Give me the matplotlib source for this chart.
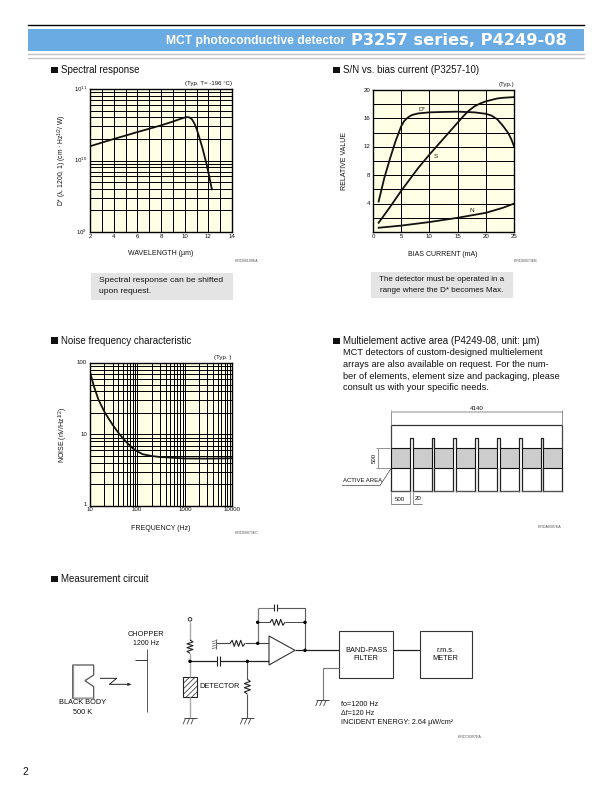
import numpy as np
import matplotlib
matplotlib.use("Agg")
import matplotlib.pyplot as plt
from matplotlib.patches import Rectangle, Polygon, Circle
from matplotlib.ticker import MultipleLocator, FixedLocator, NullFormatter

plt.rcParams['font.family'] = ['Liberation Sans', 'DejaVu Sans']
plt.rcParams['mathtext.default'] = 'regular'
plt.rcParams['mathtext.fontset'] = 'custom'
plt.rcParams['mathtext.rm'] = 'Liberation Sans'
plt.rcParams['hatch.linewidth'] = 0.5

# ---- data
spec_wl = [2, 3, 4, 5, 6, 7, 8, 9, 9.6, 10, 10.2, 10.4, 10.6, 10.8, 11, 11.2, 11.5, 11.8, 12, 12.3]
spec_d = [1.58e10, 1.78e10, 2.0e10, 2.23e10, 2.5e10, 2.78e10, 3.1e10, 3.5e10, 3.8e10, 3.98e10, 4.05e10, 4.0e10,
          3.8e10, 3.35e10, 2.8e10, 2.2e10, 1.5e10, 9.6e9, 6.9e9, 3.95e9]
bias_d = [1, 2, 3, 4, 5, 5.5, 6, 6.5, 7, 8, 10, 12, 15, 18, 20, 21, 22, 23, 24, 24.5, 25]
val_d = [4.3, 7.6, 10.3, 12.8, 14.9, 15.6, 16.0, 16.3, 16.5, 16.7, 16.85, 16.9, 16.95, 16.85, 16.65, 16.4, 15.9,
         15.0, 13.9, 13.1, 12.1]
bias_s = [1, 3, 5, 8, 10, 13, 15, 16, 17, 18, 19, 20, 21, 22, 23, 25]
val_s = [1.3, 3.5, 5.8, 9.0, 10.9, 13.6, 15.4, 16.3, 17.1, 17.7, 18.1, 18.4, 18.6, 18.8, 18.9, 19.0]
bias_n = [1, 5, 10, 15, 20, 23, 25]
val_n = [0.6, 0.9, 1.4, 2.0, 2.7, 3.4, 4.0]
noise_f = [10, 12, 15, 20, 25, 30, 40, 50, 60, 70, 80, 100, 130, 200, 300, 500, 1000, 3000, 10000]
noise_v = [75, 48, 31, 21, 16.5, 13.7, 10.5, 8.8, 7.7, 7.0, 6.4, 5.8, 5.3, 5.0, 4.85, 4.75, 4.62, 4.6, 4.65]
spec_xticks = [2, 4, 6, 8, 10, 12, 14]
bias_xticks = [0, 5, 10, 15, 20, 25]
bias_yticks = [4, 8, 12, 16, 20]
minors = [2, 3, 4, 5, 6, 7, 8, 9]

W, H = 612, 792
fig = plt.figure(figsize=(W/100, H/100), dpi=100, facecolor='white')
ov = fig.add_axes([0, 0, 1, 1], zorder=5)
ov.set_xlim(0, W); ov.set_ylim(H, 0); ov.axis('off'); ov.patch.set_alpha(0)

YEL = '#FFFFE6'
GRID = 0.72
TICK = 4.4
AXL = 5.0

def T(x, y, s, size=7.05, ha='left', va='center', **kw):
    kw.setdefault('color', '#111111')
    return ov.text(x, y, s, fontsize=size, ha=ha, va=va, **kw)

def L(xs, ys, lw=0.8, c='#222222', **kw):
    ov.plot(xs, ys, color=c, lw=lw, solid_capstyle='butt', **kw)

def chart(x0, y0, x1, y1):
    a = fig.add_axes([x0/W, 1-y1/H, (x1-x0)/W, (y1-y0)/H], zorder=2)
    a.set_facecolor(YEL)
    a.tick_params(which='both', length=0, labelbottom=False, labelleft=False)
    for s in a.spines.values():
        s.set_linewidth(1.0); s.set_color('black')
    a.set_axisbelow(True)
    return a

# ---- header
ov.plot([28, 584], [24.5, 24.5], color='black', lw=1.0)
ov.add_patch(Rectangle((28, 29), 556, 21.5, fc='#69ABE2', ec='none'))
ov.plot([28, 584], [53.8, 53.8], color='#c4c4c4', lw=1.0)
ov.plot([28, 584], [57.5, 57.5], color='#c4c4c4', lw=1.0)
T(345, 41, 'MCT photoconductive detector', 8.7, ha='right', weight='bold', color='white')
T(351, 40.5, 'P3257 series, P4249-08', 11.7, weight='bold', color='white', family='DejaVu Sans')

def head(x, y, s):
    ov.add_patch(Rectangle((x, y-3.4), 6.5, 6.5, fc='#111111', ec='none'))
    T(x+10, y, s, 7.05)

# ---- spectral response
head(51, 70, 'Spectral response')
a1 = chart(90, 89, 232, 232)
a1.set_yscale('log'); a1.set_xlim(2, 14); a1.set_ylim(1e9, 1e11)
a1.xaxis.set_major_locator(MultipleLocator(1))
a1.yaxis.set_major_locator(FixedLocator([1e9, 1e10, 1e11]))
a1.yaxis.set_minor_locator(FixedLocator([m*d for d in (1e9, 1e10) for m in minors]))
a1.yaxis.set_minor_formatter(NullFormatter())
a1.grid(True, which='both', color='black', lw=GRID)
a1.plot(spec_wl, spec_d, color='#111111', lw=1.3)
for v in spec_xticks:
    T(90+(v-2)*142/12, 236.5, str(v), TICK, ha='center')
for e, yy in ((11, 89), (10, 160), (9, 232)):
    T(87, yy, '$10^{%d}$' % e, TICK, ha='right')
T(232, 83, '(Typ. T= -196 °C)', TICK, ha='right')
T(62, 160, 'D* (λ, 1200, 1) (cm · Hz$^{1/2}$/ W)', 4.9, ha='center', rotation=90)
T(161, 253.5, 'WAVELENGTH (µm)', AXL, ha='center')
T(235, 261, 'KIRDB0198EA', 2.6, color='#555555')
ov.add_patch(Rectangle((91, 273), 142, 27, fc='#e4e4e4', ec='none'))
T(99, 280.5, 'Spectral response can be shifted', 6.1)
T(99, 291.5, 'upon request.', 6.1)

# ---- S/N vs bias current
head(333, 70, 'S/N vs. bias current (P3257-10)')
a2 = chart(373, 90, 514, 232)
a2.set_xlim(0, 25); a2.set_ylim(0, 20)
a2.xaxis.set_major_locator(MultipleLocator(5))
a2.yaxis.set_major_locator(MultipleLocator(2))
a2.grid(True, color='black', lw=GRID)
for xs, ys in ((bias_d, val_d), (bias_s, val_s), (bias_n, val_n)):
    a2.plot(xs, ys, color='#111111', lw=1.3)
a2.text(8.7, 17.3, 'D*', fontsize=4.6, ha='center', va='center', color='#222222', zorder=6)
a2.text(11.1, 10.6, 'S', fontsize=4.6, ha='center', va='center', color='#222222', zorder=6,
        bbox=dict(fc=YEL, ec='none', pad=0.4))
a2.text(17.5, 3.0, 'N', fontsize=4.6, ha='center', va='center', color='#222222', zorder=6)
for v in bias_xticks:
    T(373+v*141/25, 236.5, str(v), TICK, ha='center')
for v in bias_yticks:
    T(370, 232-v*142/20, str(v), TICK, ha='right')
T(514, 84.5, '(Typ.)', TICK, ha='right')
T(344, 161, 'RELATIVE VALUE', AXL, ha='center', rotation=90)
T(443, 254, 'BIAS CURRENT (mA)', AXL, ha='center')
T(514, 261, 'KIRDB0073EB', 2.6, color='#555555')
ov.add_patch(Rectangle((371, 272), 142, 26, fc='#e4e4e4', ec='none'))
T(442, 279.5, 'The detector must be operated in a', 5.75, ha='center')
T(442, 290.5, 'range where the D* becomes Max.', 5.75, ha='center')

# ---- noise
head(51, 340.5, 'Noise frequency characteristic')
a3 = chart(90, 363, 232, 506)
a3.set_xscale('log'); a3.set_yscale('log')
a3.set_xlim(10, 10000); a3.set_ylim(1, 100)
a3.xaxis.set_major_locator(FixedLocator([10, 100, 1000, 10000]))
a3.xaxis.set_minor_locator(FixedLocator([m*d for d in (10, 100, 1000) for m in minors]))
a3.yaxis.set_major_locator(FixedLocator([1, 10, 100]))
a3.yaxis.set_minor_locator(FixedLocator([m*d for d in (1, 10) for m in minors]))
a3.xaxis.set_minor_formatter(NullFormatter()); a3.yaxis.set_minor_formatter(NullFormatter())
a3.grid(True, which='both', color='black', lw=GRID)
a3.plot(noise_f, noise_v, color='#111111', lw=1.3)
for s, xx in (('10', 90), ('100', 137), ('1000', 185), ('10000', 232)):
    T(xx, 509.5, s, TICK, ha='center')
for s, yy in (('100', 363), ('10', 434), ('1', 504)):
    T(87, yy, s, TICK, ha='right')
T(232, 357.5, '(Typ. )', TICK, ha='right')
T(63, 435, 'NOISE (nV/Hz$^{1/2}$)', AXL, ha='center', rotation=90)
T(161, 528, 'FREQUENCY (Hz)', AXL, ha='center')
T(235, 533, 'KIRDB0073EC', 2.6, color='#555555')

# ---- multielement
head(333, 341, 'Multielement active area (P4249-08, unit: µm)')
for i, s in enumerate(['MCT detectors of custom-designed multielement',
                       'arrays are also available on request. For the num-',
                       'ber of elements, element size and packaging, please',
                       'consult us with your specific needs.']):
    T(343, 352.7+i*11.7, s, 6.7)

x0, pitch, w = 390.7, 21.8, 19.0
top, ft, at, ab, bot = 424.7, 438, 448, 468.3, 490.5
for i in range(8):
    xa = x0 + i*pitch
    ov.add_patch(Rectangle((xa, at), w, ab-at, fc='#cccccc', ec='#111111', lw=0.8))
    ov.plot([xa, xa], [ab, bot], color='#222222', lw=0.9)
    ov.plot([xa+w, xa+w], [ab, bot], color='#222222', lw=0.9)
    ov.plot([xa, xa+w], [bot, bot], color='#555555', lw=1.0)
    if i < 7:
        ov.plot([xa+w, xa+w, xa+pitch, xa+pitch], [at, ft, ft, at], color='#222222', lw=0.9)
xe = x0 + 7*pitch + w
L([x0, xe], [top, top], 0.9, '#333333')
L([x0, x0], [top, at], 0.9, '#444444')
L([xe, xe], [top, at], 0.9, '#444444')
L([x0, x0], [410, top], 0.5, '#666666')
L([xe, xe], [410, top], 0.5, '#666666')
L([x0, xe], [412, 412], 1.1, '#b5b5b5')
T((x0+xe)/2, 408, '4140', TICK, ha='center')
L([376, 390], [448, 448], 0.5, '#666666')
L([376, 390], [468.3, 468.3], 0.5, '#666666')
L([378, 378], [448, 468.3], 0.8, '#999999')
T(374.5, 458, '500', TICK, ha='center', rotation=90)
L([342, 380, 391], [485.5, 485.5, 468.5], 0.5, '#444444')
T(343, 481, 'ACTIVE AREA', 4.3)
L([390.7, 390.7], [492, 504], 0.5, '#666666')
L([409.5, 409.5], [492, 504], 0.5, '#666666')
L([412.5, 412.5], [492, 504], 0.5, '#666666')
L([390.7, 409.5], [504, 504], 0.5, '#555555')
L([412.5, 422], [504, 504], 0.5, '#555555')
T(399.5, 499.5, '500', TICK, ha='center')
T(418, 498.5, '20', TICK, ha='center')
T(538, 526.5, 'KIRDA0007EA', 2.6, color='#555555')

# ---- measurement circuit
head(51, 579, 'Measurement circuit')
def X5(v): return 50 + v/3
def X6(v): return 250 + v/3
def Y(v): return 590 + v/3

def resistor_v(x, y0, y1, amp=3.0):
    ys = np.linspace(y0, y1, 8)
    xs = [x] + [x + amp*(-1)**i for i in range(6)] + [x]
    L(xs, ys, 0.8)
def resistor_h(x0_, x1_, y, amp=3.0):
    xs = np.linspace(x0_, x1_, 8)
    ys = [y] + [y + amp*(-1)**(i+1) for i in range(6)] + [y]
    L(xs, ys, 0.8)
def ground(x, y):
    L([x-6.5, x+6.5], [y, y], 0.7, '#444444')
    for d in (-4.5, -0.5, 3.5):
        L([x+d, x+d-2.5], [y, y+6], 0.6, '#444444')
def dot(x, y):
    ov.add_patch(Circle((x, y), 1.7, fc='black', ec='none', zorder=6))
def cap_h(x, y, gap=3, h=5):
    L([x-gap/2, x-gap/2], [y-h, y+h], 0.8)
    L([x+gap/2, x+gap/2], [y-h, y+h], 0.8)

# black body
bb = [(131,225),(68,225),(68,325),(131,325),(131,290),(105,272),(131,255)]
ov.add_patch(Polygon([(X5(a), Y(b)) for a, b in bb], closed=True, fc='white', ec='#555555', lw=0.9))
L([X5(68), X5(68)], [Y(225), Y(325)], 1.0, '#999999')
L([X5(68), X5(131)], [Y(325), Y(325)], 1.0, '#999999')
L([X5(150), X5(200), X5(178), X5(235)], [Y(265), Y(265), Y(283), Y(283)], 0.7)
ov.add_patch(Polygon([(X5(232), Y(278)), (X5(245), Y(283)), (X5(232), Y(288))], fc='#222222', ec='none'))
T(X5(98), Y(339), 'BLACK BODY', 5.3, ha='center')
T(X5(98), Y(367), '500 K', 5.3, ha='center')
L([X5(290), X5(290)], [Y(178), Y(365)], 0.7, '#555555')
L([X5(255), X5(290)], [Y(211), Y(211)], 0.7, '#333333')
T(X5(288), Y(135), 'CHOPPER', 5.3, ha='center')
T(X5(288), Y(160), '1200 Hz', 5.0, ha='center')

# detector branch
xc = X5(420)
ov.add_patch(Circle((xc, Y(88)), 1.8, fc='white', ec='#333333', lw=0.7))
L([xc, xc], [Y(95), Y(150)], 1.0, '#aaaaaa')
resistor_v(xc, Y(150), Y(190))
L([xc, xc], [Y(190), Y(262)], 1.0, '#aaaaaa')
ov.add_patch(Rectangle((X5(398), Y(262)), 44/3, 60/3, fc='white', ec='#222222', lw=0.8, hatch='//////'))
L([xc, xc], [Y(322), Y(385)], 1.0, '#aaaaaa')
ground(xc, Y(385))
T(X5(447), Y(288), 'DETECTOR', 5.3)
dot(xc, Y(214))
L([xc, X5(502)], [Y(214), Y(214)], 0.9)
cap_h(X5(506), Y(214))
L([X5(511), X5(657)], [Y(214), Y(214)], 0.9)
dot(X5(592), Y(214))
L([X5(592), X5(592)], [Y(214), Y(268)], 0.8, '#555555')
resistor_v(X5(592), Y(268), Y(312))
L([X5(592), X5(592)], [Y(312), Y(385)], 0.8, '#555555')
ground(X5(592), Y(385))

# op-amp and feedback
ov.add_patch(Polygon([(X5(657), Y(138)), (X5(657), Y(225)), (X6(135), Y(181))], closed=True, fc='white', ec='#333333', lw=0.8))
L([X5(497), X5(540)], [Y(160), Y(160)], 0.8, '#444444')
L([X5(497), X5(497)], [Y(148), Y(176)], 0.8, '#666666')
for k in (152, 159, 166, 173):
    L([X5(486), X5(497)], [Y(k+3), Y(k)], 0.5, '#555555')
resistor_h(X5(540), X5(585), Y(160))
L([X5(585), X5(657)], [Y(160), Y(160)], 0.8, '#444444')
dot(X5(623), Y(160))
xl, xr = X6(23), X6(165)
L([xl, xl], [Y(160), Y(53)], 0.9, '#777777')
L([xl, X6(73)], [Y(53), Y(53)], 0.8, '#777777')
cap_h(X6(77), Y(53), h=3.5)
L([X6(82), xr, xr], [Y(53), Y(53), Y(181)], 0.8, '#555555')
dot(xl, Y(97)); dot(xr, Y(97)); dot(xr, Y(181))
L([xl, X6(60)], [Y(97), Y(97)], 0.7, '#444444')
resistor_h(X6(60), X6(105), Y(97))
L([X6(105), xr], [Y(97), Y(97)], 0.7, '#444444')
L([X6(135), X6(268)], [Y(181), Y(181)], 0.9)

# boxes
ov.add_patch(Rectangle((X6(268), Y(124)), 160/3, 141/3, fc='white', ec='#333333', lw=0.8))
ov.add_patch(Rectangle((X6(511), Y(124)), 154/3, 141/3, fc='white', ec='#333333', lw=0.8))
L([X6(428), X6(511)], [Y(181), Y(181)], 0.9)
L([X6(268), X6(218), X6(218)], [Y(235), Y(235), Y(330)], 0.8, '#777777')
ground(X6(218), Y(330))
T(X6(348), Y(180), 'BAND-PASS', 5.3, ha='center')
T(X6(348), Y(207), 'FILTER', 5.3, ha='center')
T(X6(587), Y(182), 'r.m.s.', 5.3, ha='center')
T(X6(587), Y(204), 'METER', 5.3, ha='center')
T(X6(272), Y(345), 'fo=1200 Hz', 5.2)
T(X6(272), Y(371), 'Δf=120 Hz', 5.0)
T(X6(272), Y(397), 'INCIDENT ENERGY: 2.64 µW/cm²', 5.2)
T(458, 737, 'KIRDC0007EA', 2.6, color='#555555')

T(22, 772, '2', 7.2)

fig.savefig('out.png', dpi=100)
